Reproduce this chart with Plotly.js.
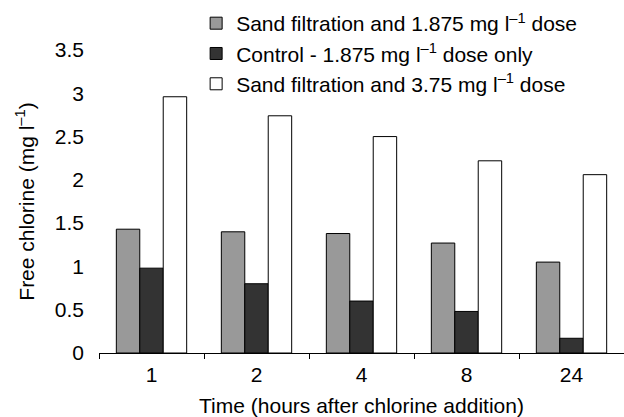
<!DOCTYPE html>
<html>
<head>
<meta charset="utf-8">
<script src="https://cdn.plot.ly/plotly-3.0.1.min.js"></script>
<style>html,body{margin:0;padding:0;background:#fff;}#chart{width:624px;height:417px;}</style>
</head>
<body>
<div id="chart"></div>
<script>
const categories = ["1", "2", "4", "8", "24"];
const sandLow = [1.43, 1.40, 1.38, 1.27, 1.05];
const controlLow = [0.98, 0.80, 0.60, 0.48, 0.17];
const sandHigh = [2.96, 2.74, 2.50, 2.22, 2.06];
const seriesNames = [
  "Sand filtration and 1.875 mg l<sup>\u20131</sup> dose",
  "Control - 1.875 mg l<sup>\u20131</sup> dose only",
  "Sand filtration and 3.75 mg l<sup>\u20131</sup> dose"
];
const colors = ["#999999", "#333333", "#ffffff"];
const yTicks = [0, 0.5, 1, 1.5, 2, 2.5, 3, 3.5];
const yTickText = ["0", "0.5", "1", "1.5", "2", "2.5", "3", "3.5"];

const font = {family: "Liberation Sans, Arial, sans-serif", size: 21, color: "#000"};
const data = [sandLow, controlLow, sandHigh].map((vals, i) => ({
  type: "bar",
  x: categories,
  y: vals,
  name: seriesNames[i],
  marker: {color: colors[i], line: {color: "#000", width: 1}}
}));

const layout = {
  width: 624, height: 417,
  margin: {l: 99, r: 0, t: 50, b: 64},
  paper_bgcolor: "#fff", plot_bgcolor: "#fff",
  font: font,
  barmode: "group",
  bargap: 0.33,
  bargroupgap: 0,
  showlegend: true,
  legend: {x: 0.185, y: 1.155, xanchor: "left", yanchor: "top", bgcolor: "rgba(0,0,0,0)", font: font, traceorder: "normal", itemwidth: 30},
  xaxis: {
    type: "category",
    showline: true, linecolor: "#000", linewidth: 1,
    ticks: "outside", tickson: "boundaries", ticklen: 5, tickcolor: "#000",
    showgrid: false, zeroline: false,
    ticklabelstandoff: 3,
    title: {text: "Time (hours after chlorine addition)", font: font, standoff: 14}
  },
  yaxis: {
    range: [0, 3.5],
    tickvals: yTicks, ticktext: yTickText,
    showline: false, showgrid: false, zeroline: false, ticks: "",
    ticklabelstandoff: 14,
    title: {text: "Free chlorine (mg l<sup>\u20131</sup>)", font: font, standoff: 14}
  }
};
Plotly.newPlot("chart", data, layout, {displayModeBar: false, staticPlot: true});
</script>
</body>
</html>
